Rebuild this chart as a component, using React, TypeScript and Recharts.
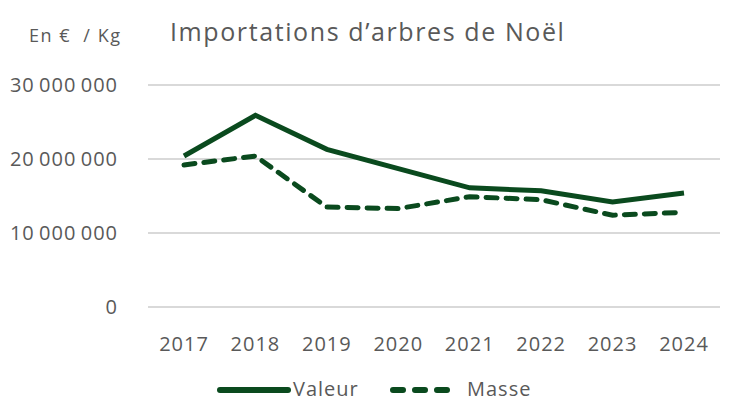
import { LineChart, Line, XAxis, YAxis, CartesianGrid } from 'recharts';

const annees = ['2017', '2018', '2019', '2020', '2021', '2022', '2023', '2024'];
const valeur = [20400000, 25900000, 21300000, 18700000, 16100000, 15700000, 14200000, 15400000];
const masse = [19200000, 20400000, 13500000, 13300000, 14900000, 14500000, 12400000, 12800000];
const yTicks = [0, 10000000, 20000000, 30000000];

const vert = '#0a4a1e';
const gris = '#595959';
const police = '"Open Sans", Lato, sans-serif';

const data = annees.map((a, i) => ({ annee: a, Valeur: valeur[i], Masse: masse[i] }));

const fmt = (v: number) => v.toLocaleString('fr-FR').replace(/\s/g, '\u2009');

// legende dessinee a part, tout en bas
function Legende() {
  return (
    <svg width={735} height={403} style={{ position: 'absolute', left: 0, top: 0, pointerEvents: 'none' }}>
      <line x1={220} y1={390} x2={288} y2={390} stroke={vert} strokeWidth={6} strokeLinecap="round" />
      <text x={293} y={396} fontSize={20} fill={gris} fontFamily={police} letterSpacing={1}>Valeur</text>
      <line x1={393} y1={390} x2={455} y2={390} stroke={vert} strokeWidth={6} strokeLinecap="round" strokeDasharray="10 12" />
      <text x={467} y={396} fontSize={20} fill={gris} fontFamily={police} letterSpacing={1}>Masse</text>
    </svg>
  );
}

export default function App() {
  return (
    <div style={{ position: 'absolute', left: 0, top: 0, width: 735, height: 403, overflow: 'hidden', fontFamily: police }}>
      <div style={{ position: 'absolute', left: 29, top: 23, fontSize: 18, color: gris, letterSpacing: 1.5, whiteSpace: 'pre' }}>En €  / Kg</div>
      <div style={{ position: 'absolute', left: 170, top: 14, fontSize: 25, color: gris, letterSpacing: 1.6, whiteSpace: 'pre' }}>Importations d’arbres de Noël</div>
      <LineChart width={735} height={403} data={data} margin={{ top: 85, right: 15, left: 0, bottom: 28 }}>
        <CartesianGrid vertical={false} stroke="#d9d9d9" strokeWidth={2} />
        <XAxis
          dataKey="annee"
          axisLine={false}
          tickLine={false}
          padding={{ left: 36, right: 36 }}
          tick={{ fill: gris, fontSize: 20, fontFamily: police, letterSpacing: 1 }}
          tickMargin={24}
          height={68}
        />
        <YAxis
          width={148}
          domain={[0, 30000000]}
          ticks={yTicks}
          axisLine={false}
          tickLine={false}
          tickFormatter={fmt}
          tick={{ fill: gris, fontSize: 20, fontFamily: police, letterSpacing: 1 }}
          tickMargin={24}
        />
        <Line type="linear" dataKey="Valeur" stroke={vert} strokeWidth={5} dot={false} isAnimationActive={false} />
        <Line type="linear" dataKey="Masse" stroke={vert} strokeWidth={5} strokeDasharray="11 9" strokeLinecap="round" dot={false} isAnimationActive={false} />
      </LineChart>
      <Legende />
    </div>
  );
}
